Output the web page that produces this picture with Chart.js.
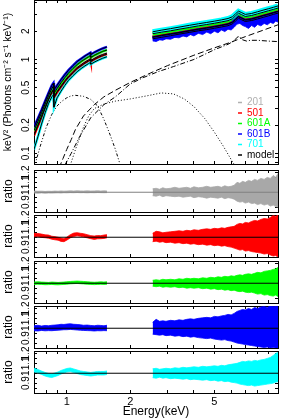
<!DOCTYPE html>
<html><head><meta charset="utf-8">
<script src="https://cdn.jsdelivr.net/npm/chart.js@4/dist/chart.umd.min.js"></script>
<style>
html,body{margin:0;padding:0;background:#fff;overflow:hidden}
#wrap{position:relative;width:281px;height:418px;background:#fff}
#wrap canvas{position:absolute;left:0}
</style></head><body>
<div id="wrap">
<canvas id="top" width="281" height="167" style="top:0px;width:281px;height:167px"></canvas>
<canvas id="p0" width="281" height="52" style="top:162px;width:281px;height:52px"></canvas>
<canvas id="p1" width="281" height="52" style="top:207px;width:281px;height:52px"></canvas>
<canvas id="p2" width="281" height="52" style="top:253px;width:281px;height:52px"></canvas>
<canvas id="p3" width="281" height="52" style="top:298px;width:281px;height:52px"></canvas>
<canvas id="p4" width="281" height="75" style="top:343px;width:281px;height:75px"></canvas>
</div>
<script>
const FONT = "'Liberation Sans', Arial, Helvetica, sans-serif";
Chart.defaults.font.family = FONT;
Chart.defaults.color = '#000';

// ---- axes ----
const energyMin = 0.7, energyMax = 10;
const energyTicks = [0.7,0.8,0.9,1,2,3,4,5,6,7,8,9,10];
const energyTickLabels = ['','','','1','2','','','5','','','','',''];
const fluxMin = 0.077, fluxMax = 4.3;
const fluxTicks = [0.08,0.09,0.1,0.2,0.3,0.4,0.5,0.6,0.7,0.8,0.9,1,2,3,4];
const fluxTickLabels = ['','','0.1','0.2','','','0.5','','','','','1','2','',''];
const ratioMin = 0.8, ratioMax = 1.225;
const ratioTicks = [0.85,0.9,0.95,1,1.05,1.1,1.15,1.2];
const ratioTickLabels = ['','0.9','','1','','1.1','','1.2'];

// ---- legend ----
const legendLabels = ['201','501','601A','601B','701','model'];
const legendColors = ['#b0b0b0','#ff0000','#00ff00','#0000ff','#00ffff','#000000'];

// ---- unfolded spectra (keV^2 Photons cm^-2 s^-1 keV^-1) ----
const specLowE = [0.70,0.73,0.76,0.79,0.82,0.85,0.865,0.87,0.90,0.94,0.98,1.02,1.07,1.12,1.17,1.22,1.27,1.295,1.30,1.36,1.42,1.48,1.55];
const blueLow  = [0.19,0.235,0.29,0.36,0.44,0.53,0.56,0.47,0.53,0.61,0.69,0.77,0.86,0.95,1.02,1.09,1.15,1.18,1.13,1.20,1.26,1.31,1.36];
const greenLow = [0.175,0.218,0.27,0.335,0.41,0.49,0.52,0.435,0.49,0.565,0.64,0.715,0.80,0.88,0.95,1.01,1.07,1.10,1.05,1.115,1.17,1.22,1.26];
const grayLow  = [0.16,0.2,0.25,0.31,0.38,0.455,0.48,0.40,0.455,0.525,0.595,0.665,0.74,0.82,0.88,0.94,0.99,1.02,0.975,1.035,1.09,1.13,1.17];
const redLow   = [0.155,0.195,0.24,0.30,0.37,0.445,0.47,0.39,0.445,0.51,0.58,0.645,0.72,0.80,0.855,0.915,0.965,0.99,0.95,1.01,1.06,1.10,1.14];
const cyanLow  = [0.11,0.15,0.205,0.27,0.34,0.40,0.42,0.31,0.39,0.46,0.53,0.60,0.67,0.74,0.80,0.855,0.905,0.93,0.89,0.945,0.99,1.03,1.07];

const specHighE = [2.55,2.8,3.1,3.4,3.8,4.2,4.6,5.0,5.4,5.8,6.1,6.3,6.5,6.7,7.0,7.5,8.0,8.5,9.0,9.5,10.0];
const cyanHigh  = [1.97,2.05,2.13,2.21,2.31,2.40,2.48,2.56,2.64,2.73,2.86,3.07,3.27,3.17,3.02,3.09,3.22,3.35,3.47,3.59,3.72];
const greenHigh = [1.88,1.95,2.02,2.10,2.19,2.28,2.355,2.43,2.51,2.59,2.72,2.92,3.11,3.01,2.87,2.94,3.06,3.18,3.30,3.41,3.53];
const grayHigh  = [1.74,1.81,1.88,1.94,2.03,2.11,2.18,2.25,2.32,2.40,2.52,2.70,2.88,2.79,2.66,2.72,2.83,2.95,3.05,3.16,3.27];
const redHigh   = [1.72,1.79,1.86,1.92,2.01,2.09,2.16,2.23,2.30,2.38,2.49,2.67,2.85,2.76,2.63,2.69,2.80,2.92,3.02,3.13,3.24];
const blueHigh  = [1.66,1.72,1.79,1.86,1.94,2.02,2.08,2.15,2.22,2.29,2.40,2.58,2.75,2.66,2.54,2.60,2.70,2.81,2.91,3.02,3.12];

// lower edge of the noisy 601B band
const blueSpikeE = [2.55,2.65,2.75,2.85,2.95,3.1,3.25,3.4,3.55,3.7,3.85,4.0,4.2,4.4,4.6,4.8,5.0,5.2,5.4,5.6,5.8,6.0,6.2,6.4,6.6,6.8,7.0,7.25,7.5,7.75,8.0,8.3,8.6,8.9,9.2,9.5,9.75,10.0];
const blueSpikeLo = [1.58,1.55,1.62,1.60,1.66,1.64,1.72,1.70,1.78,1.74,1.84,1.78,1.90,1.84,1.96,1.88,2.0,1.92,2.06,1.98,2.10,2.06,2.20,2.38,2.42,2.30,2.24,2.14,2.30,2.20,2.36,2.28,2.42,2.34,2.48,2.42,2.56,2.50];

// ---- model components ----
const plE   = [0.92,0.96,1.0,1.05,1.1,1.2,1.35,1.5,1.7,2.0,2.5,3.0,4.0,5.0,6.0,7.0,8.0,10.0];
const plVal = [0.07,0.088,0.11,0.14,0.18,0.25,0.33,0.40,0.47,0.57,0.72,0.86,1.11,1.33,1.53,1.75,1.95,2.34];
const reflE   = [0.98,1.05,1.15,1.3,1.5,1.7,2.0,2.3,2.7,3.2,4.0,5.0,5.8,6.2,6.4,6.55,6.8,7.1,7.4,8.0,9.0,10.0];
const reflVal = [0.075,0.10,0.15,0.24,0.33,0.40,0.55,0.64,0.74,0.84,1.0,1.27,1.45,1.58,1.72,1.76,1.62,1.57,1.6,1.6,1.57,1.55];
const hotE   = [1.05,1.1,1.15,1.2,1.27,1.35,1.5,1.7,2.0,2.4,2.8,3.2,3.6,4.0,4.5,5.0,5.5,6.0,6.3];
const hotVal = [0.08,0.11,0.145,0.19,0.25,0.30,0.335,0.36,0.38,0.41,0.44,0.43,0.38,0.315,0.235,0.168,0.12,0.086,0.072];
const softE   = [0.70,0.75,0.8,0.85,0.9,0.95,1.0,1.05,1.1,1.2,1.3,1.4,1.5,1.6,1.7,1.78];
const softVal = [0.07,0.12,0.19,0.26,0.32,0.36,0.39,0.41,0.415,0.405,0.375,0.32,0.23,0.16,0.11,0.079];

// ---- data/model ratios ----
const ratioLowE  = [0.70,0.73,0.76,0.79,0.82,0.85,0.88,0.91,0.94,0.97,1.00,1.04,1.08,1.12,1.16,1.20,1.25,1.30,1.35,1.40,1.45,1.50,1.55];
const ratioHighE = [2.55,2.65,2.75,2.85,2.95,3.1,3.25,3.4,3.55,3.7,3.85,4.0,4.2,4.4,4.6,4.8,5.0,5.2,5.4,5.6,5.8,6.0,6.2,6.4,6.6,6.8,7.0,7.25,7.5,7.75,8.0,8.3,8.6,8.9,9.2,9.5,9.75,10.0];
const unityE = [0.7, 10];
const unityRatio = [1, 1];

const gray201LowHi = [1.012,1.010,1.011,1.008,1.010,1.009,1.012,1.010,1.013,1.011,1.012,1.014,1.012,1.015,1.013,1.012,1.014,1.012,1.013,1.015,1.012,1.014,1.013];
const gray201LowLo = [0.992,0.990,0.993,0.990,0.992,0.991,0.993,0.994,0.992,0.995,0.994,0.996,0.995,0.997,0.995,0.996,0.994,0.996,0.995,0.997,0.996,0.995,0.996];
const gray201HighHi = [1.035,1.04,1.03,1.045,1.035,1.04,1.05,1.04,1.045,1.05,1.04,1.055,1.045,1.05,1.06,1.05,1.055,1.06,1.05,1.065,1.055,1.06,1.07,1.10,1.09,1.11,1.10,1.12,1.11,1.13,1.12,1.14,1.13,1.15,1.14,1.17,1.15,1.19];
const gray201HighLo = [0.965,0.96,0.97,0.955,0.965,0.96,0.955,0.96,0.95,0.955,0.96,0.945,0.955,0.95,0.94,0.95,0.945,0.94,0.95,0.935,0.945,0.94,0.93,0.91,0.90,0.905,0.89,0.90,0.885,0.89,0.875,0.885,0.87,0.88,0.86,0.87,0.855,0.85];

const red501LowHi = [1.04,1.038,1.032,1.024,1.022,1.01,1.006,1.0,0.992,0.985,1.0,1.026,1.042,1.046,1.04,1.036,1.026,1.016,1.012,1.017,1.016,1.022,1.026];
const red501LowLo = [1.003,1.008,0.998,0.995,0.99,0.98,0.974,0.97,0.958,0.955,0.97,0.994,1.008,1.014,1.01,1.004,0.994,0.985,0.978,0.984,0.985,0.988,0.994];
const red501HighHi = [1.04,1.06,1.055,1.045,1.05,1.055,1.06,1.065,1.06,1.07,1.065,1.075,1.07,1.08,1.085,1.08,1.09,1.085,1.095,1.09,1.10,1.105,1.11,1.13,1.14,1.135,1.15,1.145,1.16,1.17,1.165,1.18,1.19,1.185,1.2,1.22,1.21,1.225];
const red501HighLo = [0.955,0.96,0.95,0.955,0.945,0.95,0.94,0.945,0.935,0.94,0.93,0.935,0.925,0.93,0.92,0.925,0.915,0.92,0.91,0.915,0.905,0.9,0.89,0.88,0.87,0.875,0.86,0.865,0.855,0.85,0.845,0.84,0.83,0.835,0.82,0.81,0.815,0.80];

const green601ALowHi = [1.012,1.015,1.012,1.01,1.008,1.012,1.01,1.008,1.01,1.012,1.015,1.018,1.02,1.022,1.02,1.018,1.015,1.012,1.01,1.012,1.014,1.012,1.015];
const green601ALowLo = [0.988,0.99,0.988,0.985,0.986,0.988,0.985,0.984,0.986,0.988,0.99,0.994,0.996,0.998,0.995,0.993,0.99,0.988,0.986,0.988,0.99,0.988,0.99];
const green601AHighHi = [1.03,1.035,1.03,1.04,1.035,1.04,1.035,1.045,1.04,1.05,1.045,1.05,1.045,1.055,1.05,1.06,1.055,1.065,1.06,1.07,1.065,1.075,1.07,1.08,1.085,1.08,1.09,1.095,1.09,1.10,1.11,1.105,1.12,1.125,1.13,1.14,1.145,1.16];
const green601AHighLo = [0.97,0.965,0.97,0.96,0.965,0.96,0.965,0.955,0.96,0.95,0.955,0.95,0.955,0.945,0.95,0.94,0.945,0.935,0.94,0.93,0.935,0.925,0.93,0.92,0.915,0.92,0.91,0.905,0.91,0.90,0.89,0.895,0.88,0.885,0.875,0.87,0.88,0.865];

const blue601BLowHi = [1.025,1.03,1.022,1.028,1.025,1.03,1.032,1.035,1.04,1.038,1.042,1.045,1.04,1.038,1.035,1.03,1.032,1.028,1.025,1.03,1.028,1.025,1.03];
const blue601BLowLo = [0.975,0.972,0.978,0.974,0.976,0.975,0.978,0.98,0.982,0.985,0.985,0.988,0.985,0.982,0.98,0.978,0.976,0.975,0.972,0.975,0.974,0.976,0.975];
const blue601BHighHi = [1.06,1.09,1.07,1.075,1.07,1.08,1.075,1.085,1.08,1.09,1.095,1.09,1.10,1.105,1.11,1.105,1.12,1.115,1.125,1.13,1.14,1.135,1.15,1.17,1.18,1.19,1.185,1.20,1.19,1.21,1.20,1.215,1.22,1.21,1.225,1.22,1.225,1.22];
const blue601BHighLo = [0.94,0.935,0.93,0.935,0.925,0.93,0.92,0.925,0.915,0.92,0.91,0.915,0.905,0.90,0.895,0.90,0.89,0.885,0.88,0.885,0.875,0.87,0.86,0.85,0.845,0.84,0.835,0.83,0.825,0.82,0.815,0.81,0.805,0.81,0.80,0.805,0.80,0.80];

const cyan701LowHi = [1.05,1.038,1.022,1.008,0.998,0.994,1.003,1.013,1.028,1.038,1.048,1.053,1.043,1.033,1.023,1.018,1.013,1.008,1.013,1.018,1.018,1.018,1.023];
const cyan701LowLo = [1.012,1.002,0.988,0.972,0.962,0.957,0.967,0.977,0.992,1.002,1.012,1.017,1.007,0.997,0.987,0.982,0.977,0.972,0.977,0.982,0.982,0.982,0.987];
const cyan701HighHi = [1.045,1.05,1.04,1.045,1.05,1.045,1.055,1.05,1.06,1.055,1.06,1.065,1.06,1.07,1.065,1.07,1.075,1.07,1.08,1.075,1.085,1.09,1.095,1.10,1.11,1.12,1.115,1.125,1.12,1.13,1.125,1.135,1.14,1.15,1.16,1.18,1.20,1.21];
const cyan701HighLo = [0.955,0.95,0.96,0.95,0.955,0.945,0.95,0.945,0.94,0.945,0.935,0.94,0.935,0.93,0.935,0.925,0.93,0.92,0.925,0.915,0.92,0.91,0.905,0.90,0.89,0.885,0.88,0.875,0.88,0.87,0.875,0.88,0.885,0.89,0.895,0.90,0.91,0.915];

// ---- helpers ----
function pts(xs, ys) { return xs.map((x, i) => ({x: x, y: ys[i]})); }
function line(data, color, width, extra) {
  return Object.assign({data: data, borderColor: color, backgroundColor: color, borderWidth: width,
    pointRadius: 0, pointHoverRadius: 0, fill: false, tension: 0, clip: 0,
    xAxisID: 'x', yAxisID: 'y'}, extra || {});
}
function zeroPad(s) { s.paddingLeft = 0; s.paddingRight = 0; s.paddingTop = 0; s.paddingBottom = 0; }
const GRID = {display: true, drawOnChartArea: false, drawTicks: true, tickLength: -3, color: '#000', lineWidth: 1};
const BORDER = {display: true, color: '#000', width: 1};

function xScale(pos, showLabels, fitH, title) {
  return {
    type: 'logarithmic', position: pos, min: energyMin, max: energyMax,
    afterBuildTicks: s => { s.ticks = energyTicks.map(v => ({value: v})); },
    afterFit: s => { s.height = fitH; zeroPad(s); },
    ticks: {display: showLabels, autoSkip: false, minRotation: 0, maxRotation: 0, padding: 5.1,
      color: '#000', font: {family: FONT, size: 11}, callback: (v, i) => energyTickLabels[i]},
    grid: GRID, border: BORDER,
    title: title ? {display: true, text: title, color: '#000', font: {family: FONT, size: 12, lineHeight: 1},
      padding: {top: 0, bottom: 0.5}} : {display: false}
  };
}
function yScale(pos, cfg) {
  const left = pos === 'left';
  return {
    type: cfg.type, position: pos, min: cfg.min, max: cfg.max,
    afterBuildTicks: s => { s.ticks = cfg.ticks.map(v => ({value: v})); },
    afterFit: s => { s.width = left ? 34 : 0; zeroPad(s); },
    ticks: {display: left, autoSkip: false, minRotation: 90, maxRotation: 90, crossAlign: 'center',
      padding: cfg.labelPad, color: '#000', font: {family: FONT, size: 10},
      callback: (v, i) => cfg.labels[i]},
    grid: GRID, border: BORDER,
    title: left ? {display: true, text: cfg.title, color: '#000',
      font: {family: FONT, size: cfg.titleSize, lineHeight: 1}, padding: {top: cfg.titlePad, bottom: 0}} : {display: false}
  };
}

const legendPlace = {
  id: 'legendPlace',
  afterLayout(chart) {
    const L = chart.legend;
    if (!L) return;
    L.left = 237.5; L.right = 281; L.top = 80; L.bottom = 160.5;
  }
};

// ---- top panel ----
const observations = [
  {low: cyanLow,  high: cyanHigh,  color: '#00ffff', hw: 5},
  {low: blueLow,  high: blueHigh,  color: '#0000ff', hw: 5},
  {low: greenLow, high: greenHigh, color: '#00ff00', hw: 4},
  {low: redLow,   high: redHigh,   color: '#ff0000', hw: 4},
  {low: grayLow,  high: grayHigh,  color: '#b0b0b0', hw: 4},
];
const topSets = [];
observations.forEach(o => {
  topSets.push(line(pts(specLowE, o.low), '#000', 1));
  topSets.push(line(pts(specHighE, o.high), '#000', 1));
});
observations.forEach((o, k) => {
  topSets.push(line(pts(specLowE, o.low), o.color, 2.5));
  const idx = topSets.length;
  topSets.push(line(pts(specHighE, o.high), o.color, o.hw));
  if (k === 1) {
    topSets.push(line(pts(blueSpikeE, blueSpikeLo), o.color, 0.8, {fill: {target: idx}, backgroundColor: o.color}));
  }
});
topSets.push(line(pts(plE, plVal), '#000', 1, {borderDash: [6, 3]}));
topSets.push(line(pts(reflE, reflVal), '#000', 1, {borderDash: [5, 2, 1, 2]}));
topSets.push(line(pts(hotE, hotVal), '#000', 1, {borderDash: [1, 2]}));
topSets.push(line(pts(softE, softVal), '#000', 1, {borderDash: [3, 2, 1, 2, 1, 2]}));

new Chart(document.getElementById('top'), {
  type: 'line',
  data: {datasets: topSets},
  options: {
    responsive: false, animation: false, devicePixelRatio: 1, parsing: true,
    layout: {padding: {left: 0, right: 3, top: 0, bottom: 3}},
    plugins: {
      tooltip: {enabled: false},
      legend: {
        display: true, position: 'chartArea', align: 'end',
        labels: {
          usePointStyle: true, pointStyleWidth: 4, boxHeight: 10, padding: 0.5,
          font: {family: FONT, size: 10},
          generateLabels: () => legendLabels.map((t, i) => ({
            text: t, fillStyle: legendColors[i], strokeStyle: legendColors[i], fontColor: legendColors[i],
            lineWidth: 1.5, pointStyle: 'line', hidden: false, datasetIndex: i
          }))
        }
      }
    },
    scales: {
      x: xScale('bottom', false, 0),
      x2: xScale('top', false, 0),
      y: yScale('left', {type: 'logarithmic', min: fluxMin, max: fluxMax, ticks: fluxTicks, labels: fluxTickLabels,
        labelPad: 3.4, title: 'keV\u00b2 (Photons cm\u207b\u00b2 s\u207b\u00b9 keV\u207b\u00b9)', titleSize: 10.5, titlePad: 3.2}),
      y2: yScale('right', {type: 'logarithmic', min: fluxMin, max: fluxMax, ticks: fluxTicks, labels: fluxTickLabels})
    }
  },
  plugins: [legendPlace]
});

// ---- ratio panels ----
const ratioPanels = [
  {id: 'p0', color: '#a8a8a8', unity: '#808080', lowHi: gray201LowHi, lowLo: gray201LowLo, highHi: gray201HighHi, highLo: gray201HighLo},
  {id: 'p1', color: '#ff0000', unity: '#000000', lowHi: red501LowHi, lowLo: red501LowLo, highHi: red501HighHi, highLo: red501HighLo},
  {id: 'p2', color: '#00ff00', unity: '#000000', lowHi: green601ALowHi, lowLo: green601ALowLo, highHi: green601AHighHi, highLo: green601AHighLo},
  {id: 'p3', color: '#0000ff', unity: '#000000', lowHi: blue601BLowHi, lowLo: blue601BLowLo, highHi: blue601BHighHi, highLo: blue601BHighLo},
  {id: 'p4', color: '#00ffff', unity: '#000000', lowHi: cyan701LowHi, lowLo: cyan701LowLo, highHi: cyan701HighHi, highLo: cyan701HighLo},
];
ratioPanels.forEach((p, k) => {
  const last = k === ratioPanels.length - 1;
  const sets = [
    line(pts(unityE, unityRatio), p.unity, 1),
    line(pts(ratioLowE, p.lowHi), p.color, 0.8, {fill: '+1'}),
    line(pts(ratioLowE, p.lowLo), p.color, 0.8),
    line(pts(ratioHighE, p.highHi), p.color, 0.8, {fill: '+1'}),
    line(pts(ratioHighE, p.highLo), p.color, 0.8),
  ];
  new Chart(document.getElementById(p.id), {
    type: 'line',
    data: {datasets: sets},
    options: {
      responsive: false, animation: false, devicePixelRatio: 1,
      layout: {padding: {left: 0, right: 3, top: 8, bottom: last ? 0 : 2}},
      plugins: {tooltip: {enabled: false}, legend: {display: false}},
      scales: {
        x: xScale('bottom', last, last ? 25 : 0, last ? 'Energy(keV)' : null),
        x2: xScale('top', false, 0),
        y: yScale('left', {type: 'linear', min: ratioMin, max: ratioMax, ticks: ratioTicks, labels: ratioTickLabels,
          labelPad: 4, title: 'ratio', titleSize: 12, titlePad: 2.3}),
        y2: yScale('right', {type: 'linear', min: ratioMin, max: ratioMax, ticks: ratioTicks, labels: ratioTickLabels})
      }
    }
  });
});
</script>
</body></html>
